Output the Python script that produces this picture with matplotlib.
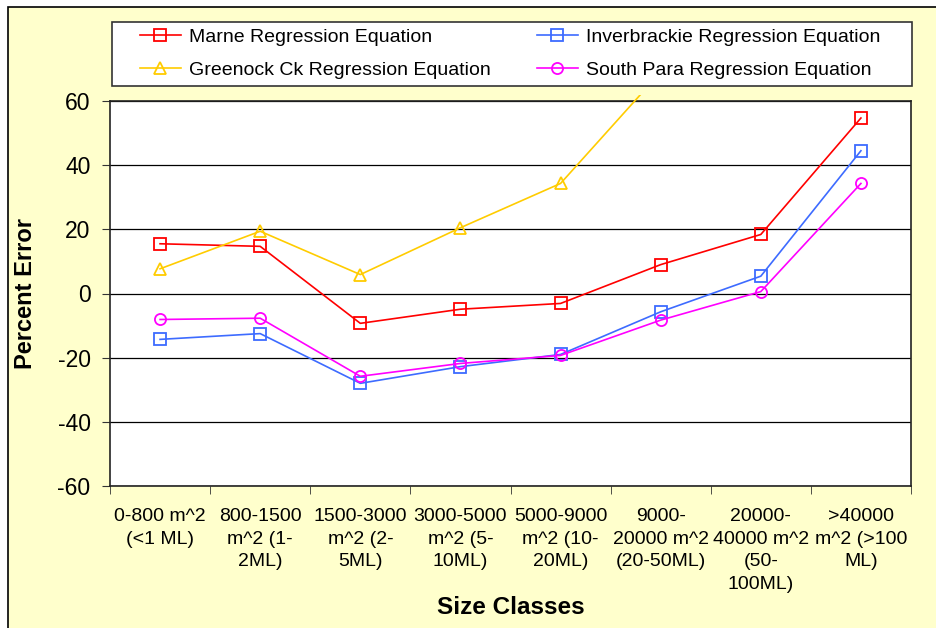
import numpy as np
import matplotlib
matplotlib.use('Agg')
from matplotlib import pyplot as plt
from matplotlib.patches import Rectangle

plt.rcParams['font.family'] = ['Liberation Sans', 'DejaVu Sans']
plt.rcParams['axes.unicode_minus'] = False

classes = ['0-800 m^2\n(<1 ML)', '800-1500\nm^2 (1-\n2ML)', '1500-3000\nm^2 (2-\n5ML)',
           '3000-5000\nm^2 (5-\n10ML)', '5000-9000\nm^2 (10-\n20ML)', '9000-\n20000 m^2\n(20-50ML)',
           '20000-\n40000 m^2\n(50-\n100ML)', '>40000\nm^2 (>100\nML)']

marne = [15.5, 14.7, -9.3, -4.9, -3.1, 9.0, 18.4, 54.7]
inverbrackie = [-14.3, -12.5, -28.0, -22.8, -19.0, -5.7, 5.4, 44.5]
greenock = [7.7, 19.4, 5.9, 20.5, 34.3, 69.0, np.nan, np.nan]
south_para = [-8.1, -7.7, -25.8, -21.8, -19.3, -8.3, 0.6, 34.3]

W, H = 936, 628
fig = plt.figure(figsize=(W / 100, H / 100), dpi=100)
fig.patch.set_facecolor('white')

# yellow chart area with border on top/left
bg = Rectangle((8 / W, -0.05), 1.0, (H - 7) / H + 0.05, transform=fig.transFigure,
               facecolor='#FFFFCC', edgecolor='black', lw=1.2, zorder=-2)
fig.add_artist(bg)

ax = fig.add_axes([110 / W, (H - 486) / H, 801 / W, 385 / H])
ax.set_facecolor('white')

x = np.arange(len(classes))
series = [
    ('Marne Regression Equation', marne, '#FF0000', 's'),
    ('Inverbrackie Regression Equation', inverbrackie, '#3D6BFF', 's'),
    ('Greenock Ck Regression Equation', greenock, '#FFCC00', '^'),
    ('South Para Regression Equation', south_para, '#FF00FF', 'o'),
]
clip = Rectangle((0, 0), 1, 1.016, transform=ax.transAxes)
lines = {}
for name, vals, col, mk in series:
    ln, = ax.plot(x, vals, color=col, lw=1.2, marker=mk, markersize=8,
                  markerfacecolor='none', markeredgecolor=col, markeredgewidth=1.3,
                  label=name, zorder=3)
    ln.set_clip_path(clip)
    lines[name] = ln

ax.set_xlim(-0.5, 7.5)
ax.set_ylim(-60, 60)
ax.set_yticks(np.arange(-60, 61, 20))
ax.yaxis.grid(True, color='black', lw=0.9)
ax.set_axisbelow(True)

ax.set_xticks(x)
ax.set_xticklabels(classes, fontsize=14, linespacing=1.42)
ax.set_xticks(np.arange(-0.5, 8, 1), minor=True)
ax.tick_params(axis='x', which='major', length=0, pad=16)
ax.tick_params(axis='x', which='minor', length=6, direction='out', color='#333333')
ax.tick_params(axis='y', length=5.5, direction='out', pad=8.5, labelsize=16.5, color='#333333')

for s in ax.spines.values():
    s.set_color('#222222')
    s.set_linewidth(1.2)

ax.set_ylabel('Percent Error', fontsize=17, fontweight='bold')
ax.yaxis.set_label_coords(-0.0911, 0.5)
fig.text(511 / W, 1 - 608 / H, 'Size Classes', fontsize=17.5, fontweight='bold',
         ha='center', va='center')

# legend box
box = Rectangle((112 / W, (H - 86) / H), 800 / W, 64 / H, transform=fig.transFigure,
                facecolor='white', edgecolor='#333333', lw=1.2, zorder=-1)
fig.add_artist(box)
order = ['Marne Regression Equation', 'Greenock Ck Regression Equation',
         'Inverbrackie Regression Equation', 'South Para Regression Equation']
fig.legend([lines[n] for n in order], order, ncol=2, loc='upper left', mode='expand',
           bbox_to_anchor=(140 / W, 1 - 28 / H, 740 / W, 0), frameon=False,
           borderpad=0, borderaxespad=0, handlelength=2.1, handletextpad=0.4,
           labelspacing=0.82, fontsize=14)

fig.savefig('out.png', dpi=100)
